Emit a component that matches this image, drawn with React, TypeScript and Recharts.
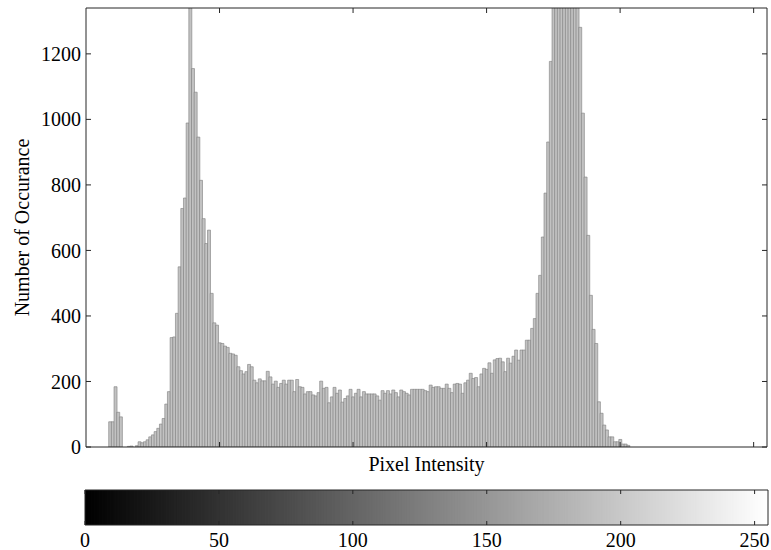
import React from 'react';
import { ComposedChart, Bar, Cell, XAxis, YAxis } from 'recharts';

// Histogram counts for pixel intensities 0..255 (16 bins per row)
const counts = [
  0, 0, 0, 0, 0, 0, 0, 0, 0, 77, 77, 184, 106, 92, 0, 0,
  2, 3, 0, 4, 16, 13, 16, 22, 31, 37, 47, 57, 70, 87, 131, 169,
  334, 336, 408, 550, 728, 760, 989, 1480, 1155, 1083, 946, 814, 697, 621, 662, 469,
  379, 372, 318, 316, 308, 304, 286, 284, 280, 245, 233, 223, 230, 252, 245, 204,
  196, 208, 202, 202, 231, 214, 192, 201, 182, 194, 204, 192, 204, 204, 169, 206,
  184, 182, 162, 169, 169, 159, 156, 166, 201, 179, 182, 135, 153, 182, 164, 174,
  137, 148, 156, 176, 153, 164, 176, 153, 169, 162, 162, 162, 162, 156, 143, 172,
  164, 172, 162, 174, 166, 153, 174, 169, 164, 159, 176, 176, 176, 176, 176, 172,
  169, 189, 182, 184, 184, 179, 179, 192, 179, 166, 192, 194, 192, 164, 196, 204,
  225, 209, 212, 184, 223, 240, 237, 257, 225, 266, 270, 271, 260, 230, 271, 256,
  277, 296, 265, 296, 296, 326, 326, 362, 392, 469, 524, 641, 775, 931, 1177, 1500,
  1700, 1900, 2000, 2050, 2000, 1900, 1750, 1600, 1420, 1281, 1019, 824, 646, 463, 359, 316,
  138, 103, 67, 52, 31, 31, 16, 16, 23, 9, 9, 5, 0, 0, 0, 0,
  0, 0, 0, 0, 0, 0, 0, 0, 0, 0, 0, 0, 0, 0, 0, 0,
  0, 0, 0, 0, 0, 0, 0, 0, 0, 0, 0, 0, 0, 0, 0, 0,
  0, 0, 0, 0, 0, 0, 0, 0, 0, 0, 0, 0, 0, 0, 0, 0,
];

const xTicks = [50, 100, 150, 200, 250];
const yTicks = [0, 200, 400, 600, 800, 1000, 1200];
const colorbarTicks = [0, 50, 100, 150, 200, 250];
const xDomain: [number, number] = [0, 255];
const yDomain: [number, number] = [0, 1340];
const xTitle = 'Pixel Intensity';
const yTitle = 'Number of Occurance';

const FONT = '"Liberation Serif", "DejaVu Serif", serif';
const FONT_SIZE = 20;
const AXIS = '#262626';

const histData = counts.map((count, intensity) => ({ intensity, count }));
const colorbarData = counts.map((_, intensity) => ({ intensity, level: 1 }));

const noTick = () => <g />;
const tickStyle = { fill: '#000', fontSize: FONT_SIZE, fontFamily: FONT };

const YTitle = (props: any) => {
  const vb = props.viewBox || { x: 0, y: 0, width: 0, height: 0 };
  const cx = vb.x + 22;
  const cy = vb.y + vb.height / 2;
  return (
    <text
      x={cx}
      y={cy}
      transform={`rotate(-90 ${cx} ${cy})`}
      textAnchor="middle"
      dominantBaseline="central"
      fill="#000"
      fontSize={FONT_SIZE}
      fontFamily={FONT}
    >
      {yTitle}
    </text>
  );
};

const gray = (v: number) => `rgb(${v},${v},${v})`;

export default function App() {
  return (
    <div style={{ position: 'absolute', left: 0, top: 0, width: 771, height: 550, overflow: 'hidden', background: '#fff' }}>
      <div style={{ position: 'absolute', left: 0, top: 0 }}>
        <ComposedChart
          width={771}
          height={480}
          data={histData}
          margin={{ top: 7, right: 3, bottom: 0, left: 0 }}
          barCategoryGap={0}
          barGap={0}
        >
          <XAxis
            dataKey="intensity"
            type="number"
            domain={xDomain}
            ticks={xTicks}
            allowDataOverflow
            height={33}
            tick={noTick}
            tickSize={-5}
            tickLine={{ stroke: AXIS }}
            axisLine={{ stroke: AXIS }}
            label={{ value: xTitle, position: 'insideBottom', offset: 9, fill: '#000', fontSize: FONT_SIZE, fontFamily: FONT }}
          />
          <XAxis
            xAxisId="top"
            orientation="top"
            dataKey="intensity"
            type="number"
            domain={xDomain}
            ticks={xTicks}
            allowDataOverflow
            height={1}
            tick={noTick}
            tickSize={-5}
            tickLine={{ stroke: AXIS }}
            axisLine={{ stroke: AXIS }}
          />
          <YAxis
            type="number"
            domain={yDomain}
            ticks={yTicks}
            allowDataOverflow
            width={86}
            tick={tickStyle}
            tickSize={-5}
            tickMargin={10}
            tickLine={{ stroke: AXIS }}
            axisLine={{ stroke: AXIS }}
            label={{ content: <YTitle /> }}
          />
          <YAxis
            yAxisId="right"
            orientation="right"
            type="number"
            domain={yDomain}
            ticks={yTicks}
            allowDataOverflow
            width={1}
            tick={noTick}
            tickSize={-5}
            tickLine={{ stroke: AXIS }}
            axisLine={{ stroke: AXIS }}
          />
          <Bar
            dataKey="count"
            fill="#c2c2c2"
            stroke="#7e7e7e"
            strokeWidth={0.6}
            isAnimationActive={false}
          />
        </ComposedChart>
      </div>
      <div style={{ position: 'absolute', left: 0, top: 480 }}>
        <ComposedChart
          width={771}
          height={70}
          data={colorbarData}
          margin={{ top: 9, right: 2, bottom: 0, left: 84 }}
          barCategoryGap={0}
          barGap={0}
        >
          <Bar dataKey="level" isAnimationActive={false}>
            {colorbarData.map((d) => (
              <Cell key={d.intensity} fill={gray(d.intensity)} stroke={gray(d.intensity)} strokeWidth={1.6} />
            ))}
          </Bar>
          <XAxis
            dataKey="intensity"
            type="number"
            domain={xDomain}
            ticks={colorbarTicks}
            allowDataOverflow
            height={25}
            tick={tickStyle}
            tickSize={-4}
            tickMargin={12}
            tickLine={{ stroke: AXIS }}
            axisLine={{ stroke: AXIS }}
          />
          <XAxis
            xAxisId="top"
            orientation="top"
            dataKey="intensity"
            type="number"
            domain={xDomain}
            ticks={colorbarTicks}
            allowDataOverflow
            height={1}
            tick={noTick}
            tickSize={-4}
            tickLine={{ stroke: AXIS }}
            axisLine={{ stroke: AXIS }}
          />
          <YAxis
            type="number"
            domain={[0, 1]}
            allowDataOverflow
            width={1}
            tick={noTick}
            tickLine={false}
            axisLine={{ stroke: AXIS }}
          />
          <YAxis
            yAxisId="right"
            orientation="right"
            type="number"
            domain={[0, 1]}
            width={1}
            tick={noTick}
            tickLine={false}
            axisLine={{ stroke: AXIS }}
          />
        </ComposedChart>
      </div>
    </div>
  );
}
